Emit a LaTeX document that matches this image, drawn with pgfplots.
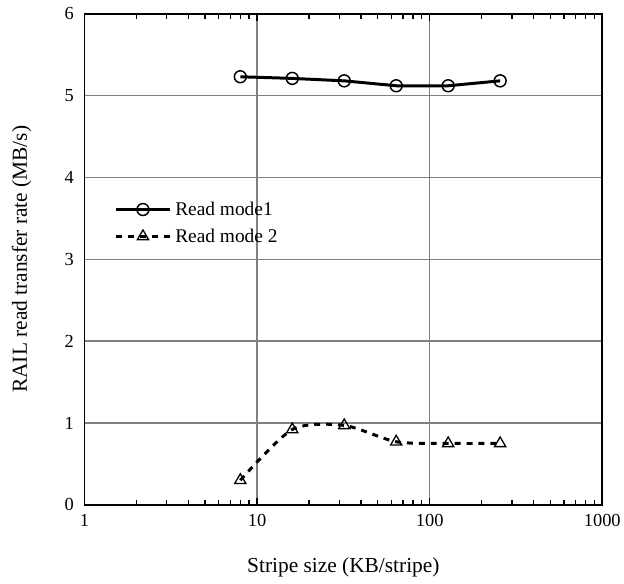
\documentclass[border=0pt]{standalone}
\usepackage{fontspec}
\setmainfont{Liberation Serif}
\usepackage{pgfplots}
\pgfplotsset{compat=1.18}

\begin{document}
\begin{tikzpicture}
\begin{axis}[
  width=521pt, height=494pt, scale only axis,
  xmode=log, log basis x=10,
  xmin=1, xmax=1000, ymin=0, ymax=6,
  xtick={1,10,100,1000}, xticklabels={1,10,100,1000},
  minor xtick={2,3,4,5,6,7,8,9,20,30,40,50,60,70,80,90,200,300,400,500,600,700,800,900},
  ytick={0,1,2,3,4,5,6},
  /pgf/number format/assume math mode=true,
  grid=major,
  major grid style={draw=black!50, line width=1.5pt},
  axis line style={line width=1.8pt},
  tick style={black, line width=1.4pt},
  tick align=inside,
  major tick length=7pt, minor tick length=5pt,
  ytick style={draw=none},
  tick label style={font=\fontsize{18.5}{20}\selectfont},
  yticklabel style={xshift=-7pt},
  xticklabel style={yshift=-6pt},
  label style={font=\fontsize{21.5}{24}\selectfont},
  xlabel={Stripe size (KB/stripe)},
  ylabel={RAIL read transfer rate (MB/s)},
  xlabel style={at={(axis description cs:0.5,-0.128)}, anchor=center},
  ylabel style={at={(axis description cs:-0.121,0.5)}, anchor=center},
  legend style={font=\fontsize{19.5}{22}\selectfont, draw=none, fill=none,
                at={(0.058,0.625)}, anchor=north west,
                row sep=4pt, inner sep=0pt, nodes={inner sep=4pt}},
  legend cell align=left,
  legend image code/.code={%
    \draw[mark repeat=2,mark phase=2,#1] plot coordinates {(0pt,0pt)(27pt,0pt)(54pt,0pt)};},
  clip=false,
]
\addplot[black, line width=3pt,
  mark=o, mark size=6pt, mark options={solid, fill=white, line width=1.5pt}]
  coordinates {(8,5.23)(16,5.21)(32,5.18)(64,5.12)(128,5.12)(256,5.18)};
\addlegendentry{Read mode1}
\addplot[black, line width=3pt, dash pattern=on 6pt off 6pt, smooth, tension=0.45,
  mark=triangle, mark size=6.5pt, mark options={solid, fill=white, line width=1.3pt}]
  coordinates {(8,0.30)(16,0.92)(32,0.97)(64,0.77)(128,0.75)(256,0.75)};
\addlegendentry{Read mode 2}
\path (axis description cs:-0.163,-0.16) rectangle (axis description cs:1.04,1.028);
\end{axis}
\end{tikzpicture}
\end{document}
